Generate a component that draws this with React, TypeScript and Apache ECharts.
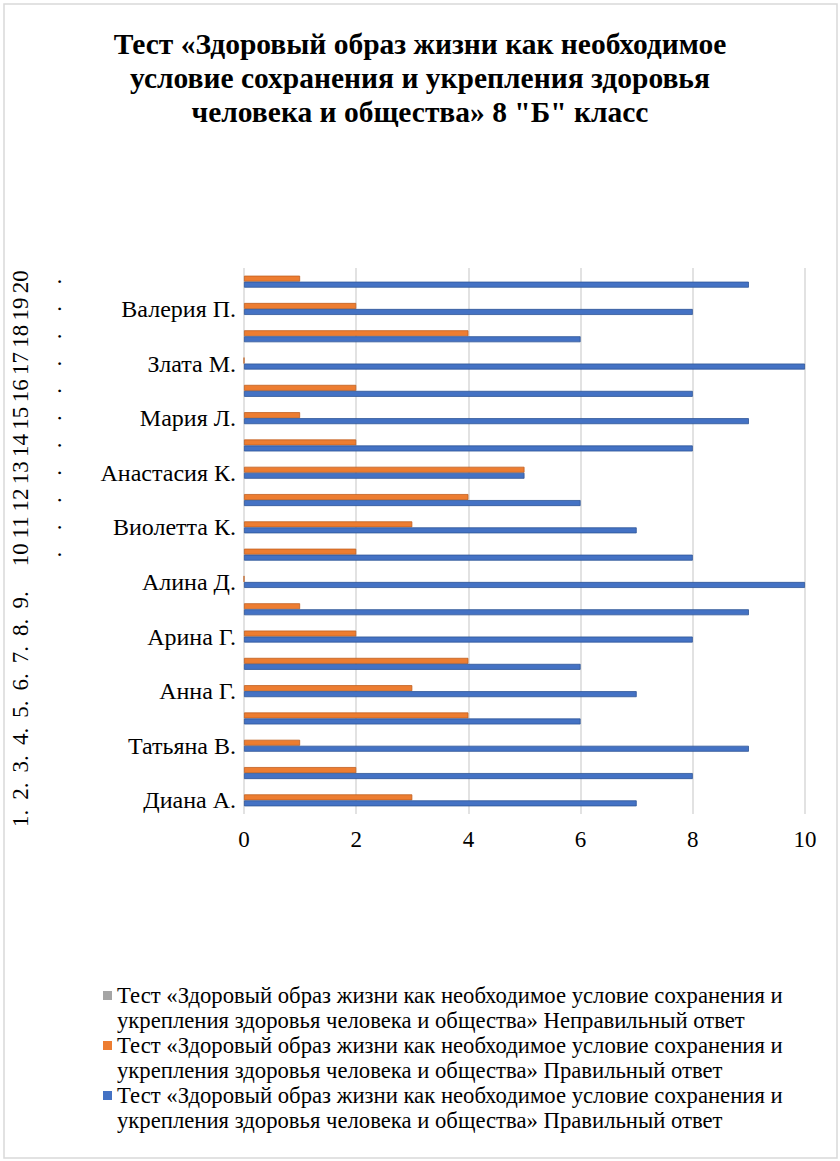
import React, { useEffect, useRef } from 'react';
import * as echarts from 'echarts';

// Student names on the category axis (only every other row carries a name)
const studentNames = [
  'Диана А.', '', 'Татьяна В.', '', 'Анна Г.', '', 'Арина Г.', '', 'Алина Д.', '',
  'Виолетта К.', '', 'Анастасия К.', '', 'Мария Л.', '', 'Злата М.', '', 'Валерия П.', '',
];

// Row numbers shown in the outer (rotated) label column
const rowNumbers = [
  '1.', '2.', '3.', '4.', '5.', '6.', '7.', '8.', '9.', '10.',
  '11.', '12.', '13.', '14.', '15.', '16.', '17.', '18.', '19.', '20.',
];

// Series values, row 1 at the bottom
const correctBlue = [7, 8, 9, 6, 7, 6, 8, 9, 10, 8, 7, 6, 5, 8, 9, 8, 10, 6, 8, 9];
const correctOrange = [3, 2, 1, 4, 3, 4, 2, 1, 0, 2, 3, 4, 5, 2, 1, 2, 0, 4, 2, 1];
const wrongGray = [0, 0, 0, 0, 0, 0, 0, 0, 0, 0, 0, 0, 0, 0, 0, 0, 0, 0, 0, 0];

const xTicks = { min: 0, max: 10, interval: 2 };

const chartTitle = [
  'Тест «Здоровый образ жизни как необходимое',
  'условие сохранения и укрепления здоровья',
  'человека и общества» 8 "Б" класс',
];

const testName =
  'Тест «Здоровый образ жизни как необходимое условие сохранения и укрепления здоровья человека и общества»';
const seriesNames = [
  `${testName} Неправильный ответ`,
  `${testName} Правильный ответ`,
  `${testName} Правильный ответ`,
];
const seriesColors = ['#A5A5A5', '#ED7D31', '#4472C4'];

const SERIF = 'Liberation Serif';
const ROW_LH = 33;

export default function App() {
  const ref = useRef<HTMLDivElement>(null);

  useEffect(() => {
    document.body.style.margin = '0';
    if (!ref.current) return;
    const chart = echarts.init(ref.current, undefined, { renderer: 'svg' });

    const legendTop = 995;
    const legendStep = 50;
    const legendGraphics: any[] = [];
    seriesNames.forEach((name, i) => {
      const cy = legendTop + legendStep * i;
      legendGraphics.push({
        type: 'rect',
        shape: { x: 103, y: cy - 4, width: 9, height: 9 },
        style: { fill: seriesColors[i] },
      });
      legendGraphics.push({
        type: 'text',
        x: 117,
        y: cy - 12.5,
        style: {
          text: name.replace(' укрепления', '\nукрепления'),
          font: `22.7px ${SERIF}`,
          lineHeight: 25,
          fill: '#000',
          align: 'left',
          verticalAlign: 'top',
        },
      });
    });

    const rowTextStyle = { fontFamily: SERIF, fontSize: 23, lineHeight: ROW_LH, color: '#000' };

    chart.setOption({
      animation: false,
      backgroundColor: '#fff',
      title: {
        text: chartTitle.join('\n'),
        left: 'center',
        top: 22,
        textStyle: {
          fontFamily: SERIF,
          fontSize: 29.5,
          fontWeight: 'bold',
          lineHeight: 34,
          color: '#000',
        },
      },
      grid: { left: 244, top: 268, width: 561, height: 546, containLabel: false },
      xAxis: {
        type: 'value',
        min: xTicks.min,
        max: xTicks.max,
        interval: xTicks.interval,
        axisLine: { show: false },
        axisTick: { show: false },
        splitLine: { lineStyle: { color: '#d9d9d9', width: 1.5 } },
        axisLabel: { fontFamily: SERIF, fontSize: 23, color: '#000', margin: 14 },
      },
      yAxis: [
        {
          type: 'category',
          data: studentNames,
          position: 'left',
          axisLine: { show: false },
          axisTick: { show: false },
          axisLabel: { interval: 0, fontFamily: SERIF, fontSize: 24, color: '#000', margin: 8 },
        },
        {
          type: 'category',
          data: rowNumbers,
          position: 'left',
          offset: 167,
          axisLine: { show: false },
          axisTick: { show: false },
          axisLabel: {
            interval: 0,
            rotate: 90,
            margin: 7,
            ...rowTextStyle,
            // two-digit numbers wrap their dot onto a second line;
            // one-digit numbers sit a little lower in their row
            formatter: (v: string) =>
              v.length > 2 ? `{n|${v.slice(0, -1)}}\n{n|.}` : `{s|${v}}\n{n| }`,
            rich: {
              n: { ...rowTextStyle },
              s: { ...rowTextStyle, padding: [0, 36, 0, 0] },
            },
          },
        },
      ],
      series: [
        {
          type: 'bar',
          name: seriesNames[1],
          data: correctOrange,
          stack: 'orange',
          barWidth: 6,
          barGap: '0%',
          itemStyle: { color: seriesColors[1], borderColor: '#C0601F', borderWidth: 0.8 },
        },
        {
          type: 'bar',
          name: seriesNames[0],
          data: wrongGray,
          stack: 'orange',
          barWidth: 6,
          barGap: '0%',
          itemStyle: { color: seriesColors[0] },
        },
        {
          type: 'bar',
          name: seriesNames[2],
          data: correctBlue,
          barWidth: 6,
          barGap: '0%',
          itemStyle: { color: seriesColors[2], borderColor: '#2F5597', borderWidth: 0.8 },
        },
      ],
      graphic: [
        {
          type: 'rect',
          shape: { x: 4, y: 4, width: 833, height: 1154 },
          style: { fill: 'none', stroke: '#d9d9d9', lineWidth: 1.5 },
          silent: true,
        },
        ...legendGraphics,
      ],
    });

    return () => chart.dispose();
  }, []);

  return <div ref={ref} style={{ width: 840, height: 1161 }} />;
}
